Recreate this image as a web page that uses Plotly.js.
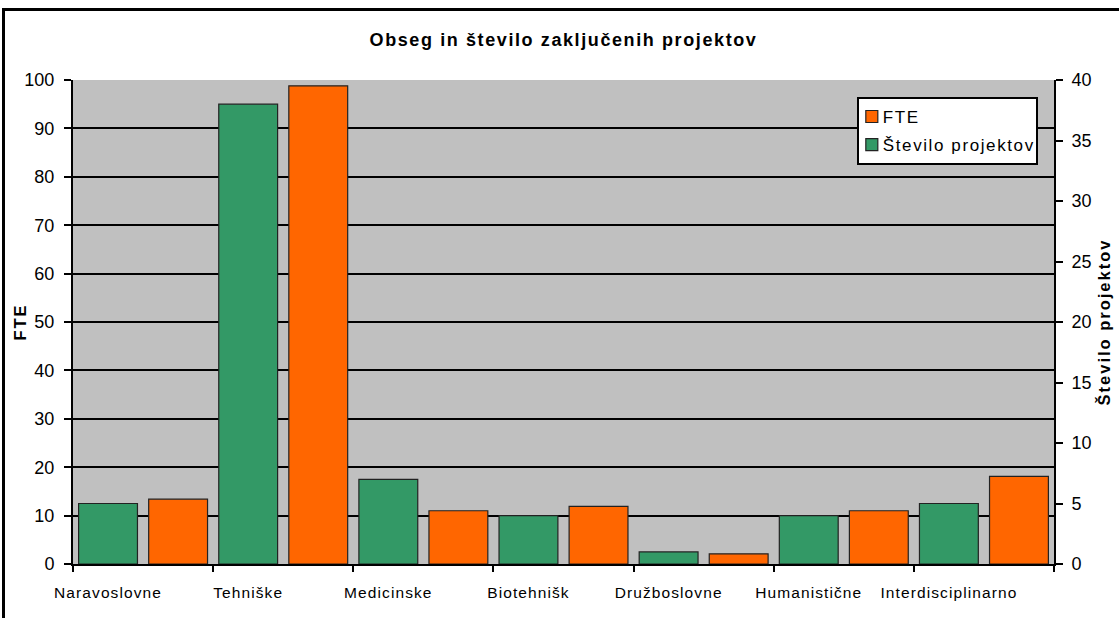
<!DOCTYPE html>
<html>
<head>
<meta charset="utf-8">
<script src="https://cdn.plot.ly/plotly-3.0.1.min.js"></script>
<style>
  html, body { margin: 0; padding: 0; background: #fff; overflow: hidden; }
  #chart { width: 1119px; height: 618px; }
  #frame { position: absolute; left: 2px; top: 8px; width: 2000px; height: 2000px;
           border-left: 3px solid #000; border-top: 3px solid #000; pointer-events: none; }
  text.gtitle { letter-spacing: 1.6px; }
  text.ytitle, text.y2title { letter-spacing: 2px; }
  #chart g.g-ytitle { transform: translateX(6px); }
  .xtick text { letter-spacing: 1.1px; }
  text.legendtext { letter-spacing: 1.6px; }
  #chart .legend .traces text.legendtext { transform: translateX(-16px); }
  #chart .legend .traces .legendpoints { transform: translateX(-7px); }
  #chart .legend rect.bg { width: 179px; }
</style>
</head>
<body>
<div id="chart"></div>
<div id="frame"></div>
<script>
const categories = ['Naravoslovne', 'Tehniške', 'Medicinske', 'Biotehnišk', 'Družboslovne', 'Humanistične', 'Interdisciplinarno'];
const fteValues = [13.4, 98.8, 11.0, 11.9, 2.1, 11.0, 18.1];
const projectCounts = [5, 38, 7, 4, 1, 4, 5];
const leftTicks = [0, 10, 20, 30, 40, 50, 60, 70, 80, 90, 100];
const rightTicks = [0, 5, 10, 15, 20, 25, 30, 35, 40];

const projX = categories.map((c, i) => 2 * i);
const fteX = categories.map((c, i) => 2 * i + 1);
const boundaries = [];
for (let i = 0; i <= categories.length; i++) boundaries.push(2 * i - 0.5);

const font = 'Liberation Sans, Arial, sans-serif';

const traces = [
  {
    type: 'bar', name: 'FTE', x: fteX, y: fteValues, yaxis: 'y',
    width: 0.84, legendgroup: 'a',
    marker: { color: '#FF6600', line: { color: '#222', width: 1.2 } },
    hoverinfo: 'y'
  },
  {
    type: 'bar', name: 'Število projektov', x: projX, y: projectCounts, yaxis: 'y2',
    width: 0.84, legendgroup: 'b',
    marker: { color: '#339966', line: { color: '#222', width: 1.2 } },
    hoverinfo: 'y'
  }
];

const layout = {
  width: 1119, height: 618,
  margin: { l: 73, r: 65, t: 80, b: 54 },
  paper_bgcolor: '#ffffff',
  plot_bgcolor: '#C0C0C0',
  font: { family: font, color: '#000', size: 16 },
  title: {
    text: 'Obseg in število zaključenih projektov',
    font: { family: font, size: 18, weight: 'bold', color: '#000' },
    x: 0.5, xref: 'paper', xanchor: 'center',
    y: 1 - 40 / 618, yref: 'container', yanchor: 'middle'
  },
  barmode: 'overlay',
  showlegend: true,
  legend: {
    x: 0.799, y: 0.965, xanchor: 'left', yanchor: 'top',
    bgcolor: '#ffffff', bordercolor: '#000', borderwidth: 2,
    font: { family: font, size: 17, color: '#000' },
    traceorder: 'grouped', tracegroupgap: 3
  },
  xaxis: {
    range: [-0.5, 2 * categories.length - 0.5],
    tickmode: 'array', tickvals: projX, ticktext: categories,
    ticks: '', ticklabelstandoff: 13,
    tickfont: { family: font, size: 15.5, color: '#000' },
    showgrid: false, zeroline: false,
    showline: true, linecolor: '#000', linewidth: 2,
    minor: { tickmode: 'array', tickvals: boundaries, ticks: 'outside', ticklen: 6, tickwidth: 2, tickcolor: '#000', showgrid: false },
    fixedrange: true
  },
  yaxis: {
    range: [0, 100], tickmode: 'array', tickvals: leftTicks,
    ticks: 'outside', ticklen: 7, tickwidth: 2, tickcolor: '#000', ticklabelstandoff: 6,
    tickfont: { family: font, size: 18, color: '#000' },
    showgrid: true, gridcolor: '#000', gridwidth: 2,
    zeroline: false, showline: true, linecolor: '#000', linewidth: 2,
    title: { text: 'FTE', font: { family: font, size: 16.5, weight: 'bold', color: '#000' }, standoff: 0 },
    fixedrange: true
  },
  yaxis2: {
    range: [0, 40], overlaying: 'y', side: 'right', anchor: 'x',
    tickmode: 'array', tickvals: rightTicks,
    ticks: 'outside', ticklen: 7, tickwidth: 2, tickcolor: '#000', ticklabelstandoff: 5,
    tickfont: { family: font, size: 18, color: '#000' },
    showgrid: false, zeroline: false, showline: true, linecolor: '#000', linewidth: 2,
    title: { text: 'Število projektov', font: { family: font, size: 16.5, weight: 'bold', color: '#000' }, standoff: 8 },
    fixedrange: true
  }
};

Plotly.newPlot('chart', traces, layout, { displayModeBar: false, staticPlot: true });
</script>
</body>
</html>
